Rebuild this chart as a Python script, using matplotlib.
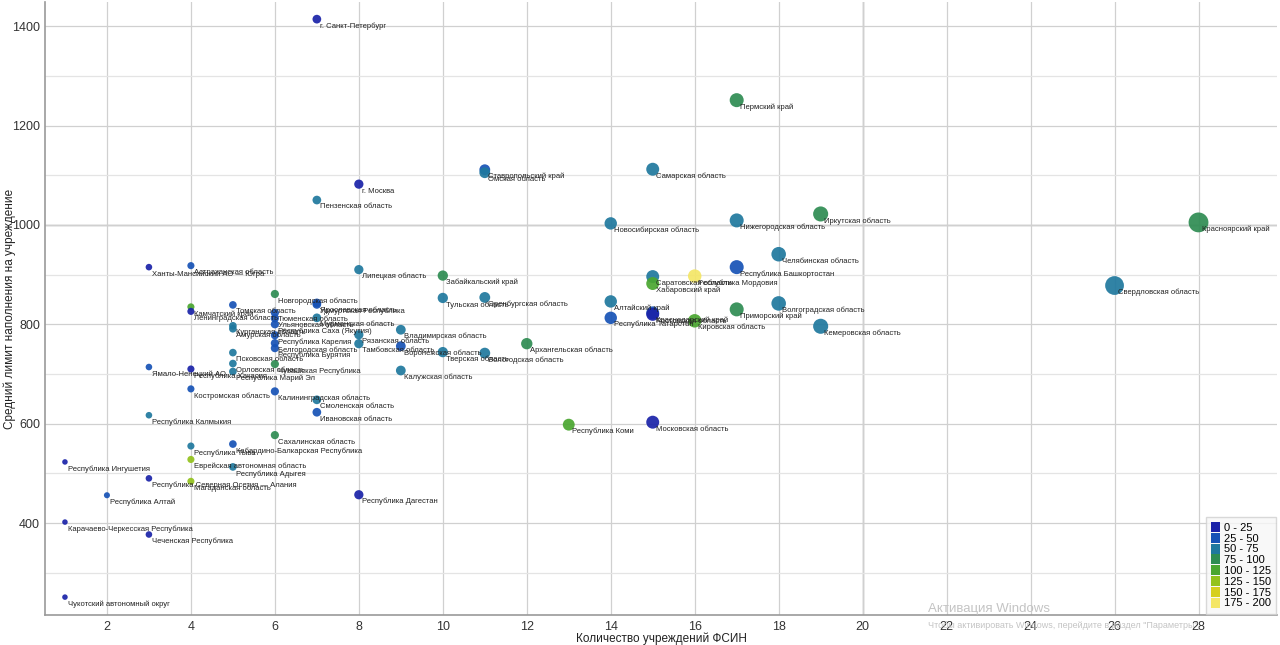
import matplotlib
matplotlib.use("Agg")
import matplotlib.pyplot as plt
from matplotlib.colors import ListedColormap, BoundaryNorm
from matplotlib.patches import Patch

plt.rcParams['font.family'] = ['Liberation Sans', 'DejaVu Sans']

# Regions: name, number of FSIN institutions, average capacity limit, colour value
regions = [
    "г. Санкт-Петербург", "Пермский край", "Ставропольский край", "Омская область",
    "Самарская область", "г. Москва", "Пензенская область", "Новосибирская область",
    "Нижегородская область", "Иркутская область", "Красноярский край", "Челябинская область",
    "Республика Башкортостан", "Саратовская область", "Хабаровский край", "Республика Мордовия",
    "Свердловская область", "Алтайский край", "Волгоградская область", "Приморский край",
    "Краснодарский край", "Ростовская область", "Кировская область", "Кемеровская область",
    "Республика Татарстан", "Республика Коми", "Московская область", "Архангельская область",
    "Вологодская область", "Тверская область", "Оренбургская область", "Тульская область",
    "Забайкальский край", "Липецкая область", "Владимирская область", "Воронежская область",
    "Калужская область", "Рязанская область", "Тамбовская область", "Республика Дагестан",
    "Ярославская область", "Удмуртская Республика", "Мурманская область", "Смоленская область",
    "Ивановская область", "Новгородская область", "Тюменская область", "Ульяновская область",
    "Республика Саха (Якутия)", "Республика Карелия", "Белгородская область", "Республика Бурятия",
    "Чувашская Республика", "Калининградская область", "Сахалинская область", "Томская область",
    "Курганская область", "Амурская область", "Псковская область", "Орловская область",
    "Республика Марий Эл", "Кабардино-Балкарская Республика", "Республика Адыгея",
    "Астраханская область", "Камчатский край", "Ленинградская область", "Республика Хакасия",
    "Костромская область", "Республика Тыва", "Еврейская автономная область",
    "Магаданская область", "Ханты-Мансийский АО — Югра", "Ямало-Ненецкий АО",
    "Республика Калмыкия", "Республика Северная Осетия — Алания", "Чеченская Республика",
    "Республика Алтай", "Республика Ингушетия", "Карачаево-Черкесская Республика",
    "Чукотский автономный округ",
]
institutions = [
    7, 17, 11, 11, 15, 8, 7, 14, 17, 19, 28, 18, 17, 15, 15, 16, 26, 14, 18, 17,
    15, 15, 16, 19, 14, 13, 15, 12, 11, 10, 11, 10, 10, 8, 9, 9, 9, 8, 8, 8,
    7, 7, 7, 7, 7, 6, 6, 6, 6, 6, 6, 6, 6, 6, 6, 5, 5, 5, 5, 5,
    5, 5, 5, 4, 4, 4, 4, 4, 4, 4, 4, 3, 3, 3, 3, 3, 2, 1, 1, 1,
]
avg_limit = [
    1414, 1251, 1111, 1105, 1112, 1082, 1050, 1003, 1009, 1022, 1005, 941, 915, 896, 882, 897,
    878, 846, 842, 830, 823, 820, 807, 796, 813, 598, 603, 761, 742, 744, 854, 853,
    898, 910, 789, 756, 707, 779, 761, 457, 843, 840, 813, 648, 623, 861, 823, 812,
    800, 778, 762, 752, 720, 665, 577, 839, 797, 791, 743, 721, 705, 559, 513, 918,
    835, 826, 710, 670, 555, 528, 484, 915, 714, 617, 490, 377, 456, 523, 402, 251,
]
colour_value = [
    10, 85, 35, 60, 60, 10, 60, 60, 60, 85, 85, 60, 35, 60, 110, 185,
    60, 60, 60, 85, 35, 20, 110, 60, 35, 110, 15, 90, 60, 60, 60, 60,
    90, 60, 60, 30, 60, 60, 60, 15, 35, 35, 60, 60, 30, 90, 25, 30,
    30, 30, 30, 25, 90, 25, 90, 30, 60, 60, 60, 60, 60, 30, 60, 30,
    105, 15, 15, 30, 60, 130, 130, 15, 30, 60, 15, 15, 30, 15, 15, 15,
]

bins = [0, 25, 50, 75, 100, 125, 150, 175, 200]
bin_labels = ["0 - 25", "25 - 50", "50 - 75", "75 - 100",
              "100 - 125", "125 - 150", "150 - 175", "175 - 200"]
bin_colors = ['#1a22a8', '#1652b6', '#1f789e', '#2e8c52',
              '#4aa630', '#93c21c', '#d6cf1e', '#f4e666']

cmap = ListedColormap(bin_colors)
norm = BoundaryNorm(bins, cmap.N)

fig = plt.figure(figsize=(12.8, 6.45), dpi=100)
ax = fig.add_axes([0.035, 0.0465, 0.963, 0.95])

sizes = [(0.72 * (5.0 + 0.53 * n)) ** 2 for n in institutions]
ax.scatter(institutions, avg_limit, s=sizes, c=colour_value, cmap=cmap, norm=norm,
           alpha=0.92, edgecolors='none', zorder=3)

for name, xv, yv in zip(regions, institutions, avg_limit):
    ax.annotate(name, (xv, yv), xytext=(2.2, -5), textcoords='offset points',
                fontsize=5.5, ha='left', va='center', color='#222222', zorder=4)

ax.set_xlim(0.52, 29.88)
ax.set_ylim(215, 1448)
ax.set_xticks(range(2, 29, 2))
ax.set_yticks(range(400, 1401, 200))
ax.set_yticks(range(300, 1401, 100), minor=True)
ax.grid(which='major', color='#d0d0d0', linewidth=0.9, zorder=0)
ax.grid(which='minor', axis='y', color='#e4e4e4', linewidth=0.9, zorder=0)
ax.axvline(20, color='#a8a8a8', linewidth=1.0, zorder=1)
ax.axhline(1000, color='#a8a8a8', linewidth=1.0, zorder=1)
ax.tick_params(which='both', length=0, labelsize=9, colors='#333333')
ax.tick_params(axis='x', pad=4)

for side in ['top', 'right']:
    ax.spines[side].set_visible(False)
for side in ['left', 'bottom']:
    ax.spines[side].set_color('#9a9a9a')
    ax.spines[side].set_linewidth(1.2)

ax.set_xlabel("Количество учреждений ФСИН", fontsize=8.5, color='#222222', va='center')
ax.set_ylabel("Средний лимит наполнения на учреждение", fontsize=8.5, color='#222222', va='center')
ax.xaxis.set_label_coords(0.5, -0.039)
ax.yaxis.set_label_coords(-0.0285, 0.5)

handles = [Patch(facecolor=c, edgecolor='none') for c in bin_colors]
leg = ax.legend(handles, bin_labels, loc='lower right', fontsize=8,
                handlelength=0.8, handleheight=1.0, handletextpad=0.3,
                labelspacing=0.0, borderpad=0.5, frameon=True, fancybox=False,
                edgecolor='#d0d0d0', borderaxespad=0.1)
leg.get_frame().set_facecolor('#f7f7f7')
leg.set_zorder(5)

# screen watermark visible on the screenshot
fig.text(928 / 1280, 1 - 609 / 645, "Активация Windows", fontsize=9.5,
         color='#c4c4c4', ha='left', va='center')
fig.text(928 / 1280, 1 - 625 / 645,
         "Чтобы активировать Windows, перейдите в раздел \"Параметры\".",
         fontsize=6.5, color='#c4c4c4', ha='left', va='center')

fig.savefig("out.png", dpi=100)
